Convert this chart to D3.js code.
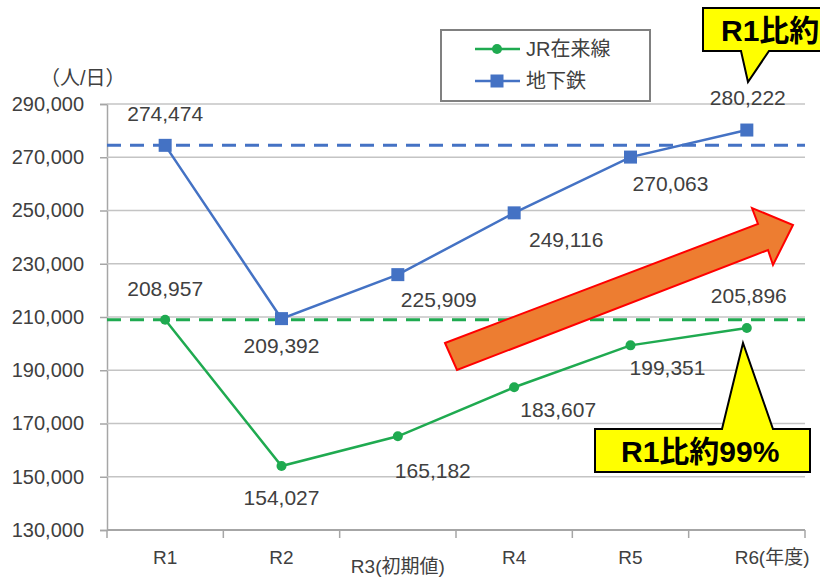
<!DOCTYPE html>
<html>
<head>
<meta charset="utf-8">
<script src="https://cdn.jsdelivr.net/npm/d3@7"></script>
<style>
  body { margin: 0; background: #fff; }
  svg { display: block; font-family: "Liberation Sans", "Noto Sans CJK JP", sans-serif; }
</style>
</head>
<body>
<div id="chart"></div>
<script>
const F_WIDTH = 820;
const F_HEIGHT = 579;
const MARGINS = {left: 107, right: 15, top: 104, bottom: 49};

const VIS_WIDTH = F_WIDTH - MARGINS.left - MARGINS.right;
const VIS_HEIGHT = F_HEIGHT - MARGINS.top - MARGINS.bottom;

// data
const YEARS = ["R1", "R2", "R3(初期値)", "R4", "R5", "R6"];
const JR = [208957, 154027, 165182, 183607, 199351, 205896];
const SUBWAY = [274474, 209392, 225909, 249116, 270063, 280222];
const Y_TICKS = [130000, 150000, 170000, 190000, 210000, 230000, 250000, 270000, 290000];

// label offsets from the point (px)
const SUBWAY_LBL = [[0, -32], [0, 27], [41, 25], [52, 27], [40, 26], [1, -33]];
const JR_LBL = [[0, -31], [0, 31], [35, 34], [44, 22], [37, 22], [2, -32]];

const BLUE = "#4472C4";
const GREEN = "#1FAA50";
const TXT = "#404040";

const FRAME = d3.select("#chart")
  .append("svg")
    .attr("width", F_WIDTH)
    .attr("height", F_HEIGHT);

const X_SCALE = d3.scaleBand()
  .domain(YEARS)
  .range([0, VIS_WIDTH]);

const Y_SCALE = d3.scaleLinear()
  .domain([130000, 290000])
  .range([VIS_HEIGHT, 0]);

const G = FRAME.append("g")
  .attr("transform", "translate(" + MARGINS.left + "," + MARGINS.top + ")");

const cx = (i) => X_SCALE(YEARS[i]) + X_SCALE.bandwidth() / 2;

// gridlines + y axis
const yAxis = G.append("g")
  .call(d3.axisLeft(Y_SCALE).tickValues(Y_TICKS).tickSize(7).tickPadding(16)
        .tickFormat(d3.format(",")));
yAxis.select(".domain").attr("stroke", "#a6a6a6").attr("stroke-width", 1.5);
yAxis.selectAll(".tick line").attr("stroke", "#a6a6a6").attr("stroke-width", 1.5);
yAxis.selectAll(".tick text").attr("fill", TXT).attr("font-size", 20);

G.append("g")
  .selectAll("line")
  .data(Y_TICKS)
  .enter()
  .append("line")
    .attr("x1", 0)
    .attr("x2", VIS_WIDTH)
    .attr("y1", (d) => Y_SCALE(d))
    .attr("y2", (d) => Y_SCALE(d))
    .attr("stroke", (d) => d === 130000 ? "#a6a6a6" : "#c4c4c4")
    .attr("stroke-width", (d) => d === 130000 ? 2 : 1.5);

// x axis ticks at band edges
const edges = YEARS.map((d) => X_SCALE(d)).concat([VIS_WIDTH]);
G.append("g")
  .selectAll("line")
  .data(edges)
  .enter()
  .append("line")
    .attr("x1", (d) => d)
    .attr("x2", (d) => d)
    .attr("y1", VIS_HEIGHT)
    .attr("y2", VIS_HEIGHT + 8)
    .attr("stroke", "#a6a6a6")
    .attr("stroke-width", 1.5);

G.append("g")
  .selectAll("text")
  .data(YEARS)
  .enter()
  .append("text")
    .attr("x", (d) => X_SCALE(d) + X_SCALE.bandwidth() / 2)
    .attr("y", (d) => VIS_HEIGHT + (d.length > 2 ? 43 : 34))
    .attr("text-anchor", "middle")
    .attr("fill", TXT)
    .attr("font-size", 19)
    .text((d) => d);

G.append("text")
  .attr("x", cx(5) + 12)
  .attr("y", VIS_HEIGHT + 34)
  .attr("fill", TXT)
  .attr("font-size", 19)
  .text("(年度)");

FRAME.append("text")
  .attr("x", 40)
  .attr("y", 85)
  .attr("fill", TXT)
  .attr("font-size", 20)
  .text("（人/日）");

// R1 reference dashed lines
[[SUBWAY[0], BLUE], [JR[0], GREEN]].forEach(([v, c]) => {
  G.append("line")
    .attr("x1", 0)
    .attr("x2", VIS_WIDTH)
    .attr("y1", Y_SCALE(v))
    .attr("y2", Y_SCALE(v))
    .attr("stroke", c)
    .attr("stroke-width", 3)
    .attr("stroke-dasharray", "14,9");
});

// lines
const line = d3.line()
  .x((d, i) => cx(i))
  .y((d) => Y_SCALE(d));

G.append("path")
  .datum(SUBWAY)
  .attr("d", line)
  .attr("fill", "none")
  .attr("stroke", BLUE)
  .attr("stroke-width", 2.5);

G.append("path")
  .datum(JR)
  .attr("d", line)
  .attr("fill", "none")
  .attr("stroke", GREEN)
  .attr("stroke-width", 2.5);

G.selectAll(".sq")
  .data(SUBWAY)
  .enter()
  .append("rect")
    .attr("x", (d, i) => cx(i) - 6.5)
    .attr("y", (d) => Y_SCALE(d) - 6.5)
    .attr("width", 13)
    .attr("height", 13)
    .attr("fill", BLUE);

G.selectAll(".dot")
  .data(JR)
  .enter()
  .append("circle")
    .attr("cx", (d, i) => cx(i))
    .attr("cy", (d) => Y_SCALE(d))
    .attr("r", 5)
    .attr("fill", GREEN);

// data labels
const fmt = d3.format(",");
function labels(vals, offs) {
  G.append("g")
    .selectAll("text")
    .data(vals)
    .enter()
    .append("text")
      .attr("x", (d, i) => cx(i) + offs[i][0])
      .attr("y", (d, i) => Y_SCALE(d) + offs[i][1])
      .attr("dy", "0.36em")
      .attr("text-anchor", "middle")
      .attr("fill", TXT)
      .attr("font-size", 21)
      .text((d) => fmt(d));
}
labels(SUBWAY, SUBWAY_LBL);
labels(JR, JR_LBL);

// legend
const LEG = FRAME.append("g");
LEG.append("rect")
  .attr("x", 441).attr("y", 30).attr("width", 209).attr("height", 71)
  .attr("fill", "#fff").attr("stroke", "#808080").attr("stroke-width", 2);
LEG.append("line").attr("x1", 475).attr("x2", 520).attr("y1", 49).attr("y2", 49)
  .attr("stroke", GREEN).attr("stroke-width", 2.5);
LEG.append("circle").attr("cx", 497).attr("cy", 49).attr("r", 5).attr("fill", GREEN);
LEG.append("line").attr("x1", 475).attr("x2", 520).attr("y1", 81).attr("y2", 81)
  .attr("stroke", BLUE).attr("stroke-width", 2.5);
LEG.append("rect").attr("x", 490.5).attr("y", 74.5).attr("width", 13).attr("height", 13).attr("fill", BLUE);
LEG.append("text").attr("x", 526).attr("y", 56).attr("fill", TXT).attr("font-size", 20).text("JR在来線");
LEG.append("text").attr("x", 526).attr("y", 88).attr("fill", TXT).attr("font-size", 20).text("地下鉄");

// orange trend arrow
FRAME.append("polygon")
  .attr("points", "445,343 758,224 752,208 793,225 773,265 768,250 457,370")
  .attr("fill", "#ED7D31")
  .attr("stroke", "#FF0000")
  .attr("stroke-width", 2)
  .attr("stroke-linejoin", "miter");

// callouts
function callout(points, tx, ty, txt) {
  FRAME.append("polygon")
    .attr("points", points)
    .attr("fill", "#FFFF00")
    .attr("stroke", "#000")
    .attr("stroke-width", 2);
  FRAME.append("text")
    .attr("x", tx)
    .attr("y", ty)
    .attr("font-size", 30)
    .attr("font-weight", "bold")
    .attr("fill", "#000")
    .text(txt);
}
callout("703,8 850,8 850,51 769,51 748,82 741,51 703,51", 721, 41, "R1比約102%");
callout("595,429 722,429 743,343 773,429 810,429 810,472 595,472", 621, 462, "R1比約99%");
</script>
</body>
</html>
